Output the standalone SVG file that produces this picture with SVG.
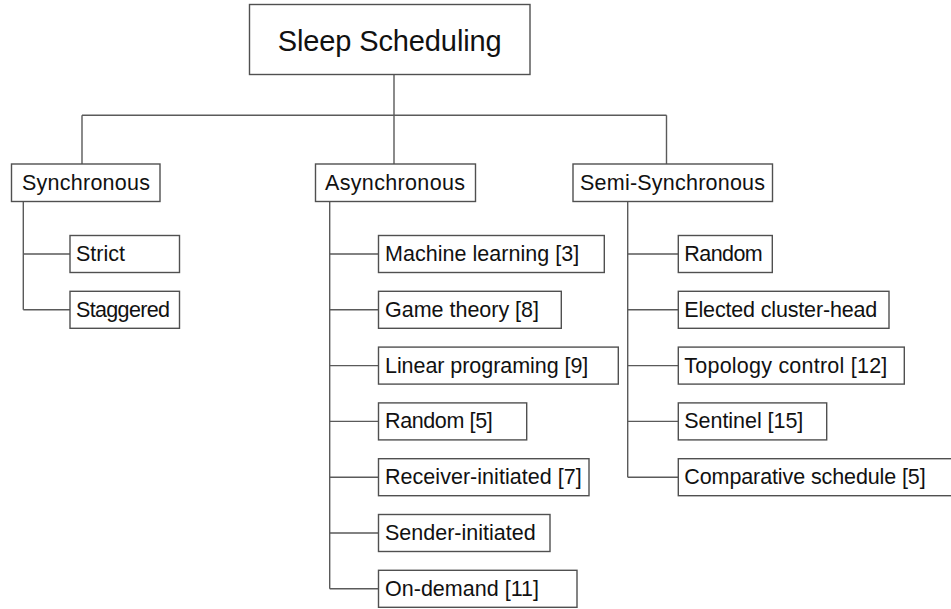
<svg xmlns="http://www.w3.org/2000/svg" width="951" height="609" viewBox="0 0 951 609">
<style>
.box{fill:#fff;stroke:#505050;stroke-width:1.4}
.lbl{font-family:"Liberation Sans",Arial,sans-serif;font-size:21.5px;fill:#111}
.root{font-family:"Liberation Sans",Arial,sans-serif;font-size:29px;fill:#111}
.con{fill:none;stroke:#5a5a5a;stroke-width:1.4}
</style>
<rect width="951" height="609" fill="#fff"/>
<g id="connectors">
<path class="con" d="M394 74.5V115.3M82 115.3H666.5M82 115.3V164M394 115.3V164M666.5 115.3V164"/>
<path class="con" d="M23.3 201.5V309.8M23.3 254H70M23.3 309.8H70"/>
<path class="con" d="M329.7 201.5V588.8M329.7 254H378.5M329.7 309.8H378.5M329.7 365.6H378.5M329.7 421.4H378.5M329.7 477.2H378.5M329.7 533H378.5M329.7 588.8H378.5"/>
<path class="con" d="M627.7 201.5V477.2M627.7 254H678.3M627.7 309.8H678.3M627.7 365.6H678.3M627.7 421.4H678.3M627.7 477.2H678.3"/>
</g>
<g id="root"><rect class="box" x="249.5" y="4.5" width="280.5" height="70"/><text class="root" x="277.7" y="51" textLength="224">Sleep Scheduling</text></g>
<g id="sync"><rect class="box" x="11.5" y="164" width="148.5" height="37.5"/><text class="lbl" x="22" y="190" textLength="128">Synchronous</text></g>
<g id="async"><rect class="box" x="315.5" y="164" width="160" height="37.5"/><text class="lbl" x="325" y="190" textLength="140">Asynchronous</text></g>
<g id="semi"><rect class="box" x="573" y="164" width="199.5" height="37.5"/><text class="lbl" x="580" y="190" textLength="185">Semi-Synchronous</text></g>
<g id="strict"><rect class="box" x="70" y="235.5" width="109.5" height="37"/><text class="lbl" x="76" y="261" textLength="49">Strict</text></g>
<g id="staggered"><rect class="box" x="70" y="291.3" width="109.5" height="37"/><text class="lbl" x="76" y="316.8" textLength="94">Staggered</text></g>
<g id="ml"><rect class="box" x="378.5" y="235.5" width="225.8" height="37"/><text class="lbl" x="385" y="261" textLength="194.3">Machine learning [3]</text></g>
<g id="game"><rect class="box" x="378.5" y="291.3" width="182.8" height="37"/><text class="lbl" x="385" y="316.8" textLength="154">Game theory [8]</text></g>
<g id="linear"><rect class="box" x="378.5" y="347.1" width="239.8" height="37"/><text class="lbl" x="385" y="372.6" textLength="203.3">Linear programing [9]</text></g>
<g id="random5"><rect class="box" x="378.5" y="402.9" width="148.2" height="37"/><text class="lbl" x="385" y="428.4" textLength="107.7">Random [5]</text></g>
<g id="receiver"><rect class="box" x="378.5" y="458.7" width="210.5" height="37"/><text class="lbl" x="385" y="484.2" textLength="196.7">Receiver-initiated [7]</text></g>
<g id="sender"><rect class="box" x="378.5" y="514.5" width="171.5" height="37"/><text class="lbl" x="385" y="540" textLength="150.7">Sender-initiated</text></g>
<g id="ondemand"><rect class="box" x="378.5" y="570.3" width="198.5" height="37"/><text class="lbl" x="385" y="595.8" textLength="154">On-demand [11]</text></g>
<g id="random"><rect class="box" x="678.3" y="235.5" width="94" height="37"/><text class="lbl" x="684.3" y="261" textLength="78.4">Random</text></g>
<g id="elected"><rect class="box" x="678.3" y="291.3" width="210.7" height="37"/><text class="lbl" x="684.3" y="316.8" textLength="193">Elected cluster-head</text></g>
<g id="topology"><rect class="box" x="678.3" y="347.1" width="226" height="37"/><text class="lbl" x="684.3" y="372.6" textLength="203">Topology control [12]</text></g>
<g id="sentinel"><rect class="box" x="678.3" y="402.9" width="148.4" height="37"/><text class="lbl" x="684.3" y="428.4" textLength="119">Sentinel [15]</text></g>
<g id="comparative"><rect class="box" x="678.3" y="458.7" width="280" height="37"/><text class="lbl" x="684.3" y="484.2" textLength="241.4">Comparative schedule [5]</text></g>
</svg>
